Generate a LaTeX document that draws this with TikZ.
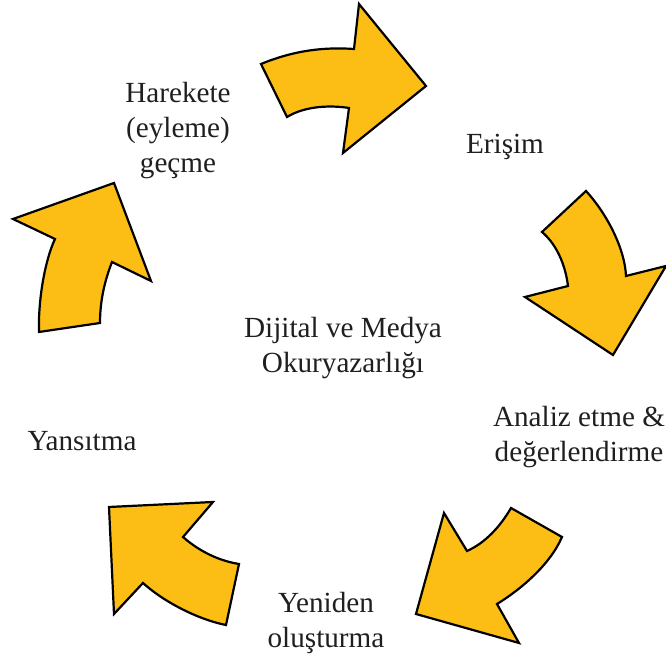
\documentclass[tikz,border=0pt]{standalone}
\usepackage{fontspec}
\setmainfont{Liberation Serif}
\definecolor{arrowyel}{RGB}{252,190,20}
\tikzset{
    cycarrow/.style={draw=black,fill=arrowyel,line width=1.1pt,line join=miter},
    steplabel/.style={align=center,inner sep=0pt,text=black!88,font=\fontsize{14.6}{17.5}\selectfont}
}
\begin{document}
\begin{tikzpicture}[x=0.5pt,y=-0.5pt]
        \useasboundingbox (0,0) rectangle (666,656);
        %---
        % arrow to Erisim
        \draw[cycarrow] (261,64) .. controls (295,50) and (325,47) .. (354,49)
            -- (359,4) -- (426,86) -- (343,153) -- (349,108)
            .. controls (330,105) and (305,106) .. (287,117) -- cycle;
        % arrow to Analiz
        \draw[cycarrow] (586,191) -- (542,232) .. controls (555,243) and (565,262) .. (568,286)
            -- (525,297) -- (613,355) -- (666,266) -- (626,276)
            .. controls (625,250) and (608,215) .. cycle;
        % arrow to Yeniden
        \draw[cycarrow] (511,508) -- (562,537) .. controls (550,565) and (520,590) .. (497,604)
            -- (519,643) -- (416,614) -- (444,513) -- (467,551)
            .. controls (485,543) and (500,527) .. cycle;
        % arrow to Yansitma
        \draw[cycarrow] (109,507) -- (213,502) -- (183,537)
            .. controls (200,552) and (220,561) .. (239,564) -- (226,625)
            .. controls (200,620) and (165,603) .. (143,583) -- (114,614) -- cycle;
        % arrow to Harekete
        \draw[cycarrow] (114,183) -- (151,281) -- (112,262)
            .. controls (105,280) and (100,300) .. (100,323) -- (39,332)
            .. controls (38,300) and (45,260) .. (55,239) -- (13,219) -- cycle;

        %---
        \node[steplabel] (center) at (343,348) {Dijital ve Medya\\Okuryazarlığı};
        \node[steplabel] (erisim) at (505,147) {Erişim};
        \node[steplabel] (analiz) at (579,437) {Analiz etme \&\\değerlendirme};
        \node[steplabel] (yeniden) at (326,623) {Yeniden\\oluşturma};
        \node[steplabel] (yansitma) at (82,441) {Yansıtma};
        \node[steplabel] (harekete) at (178,131) {Harekete\\(eyleme)\\geçme};
\end{tikzpicture}
\end{document}
